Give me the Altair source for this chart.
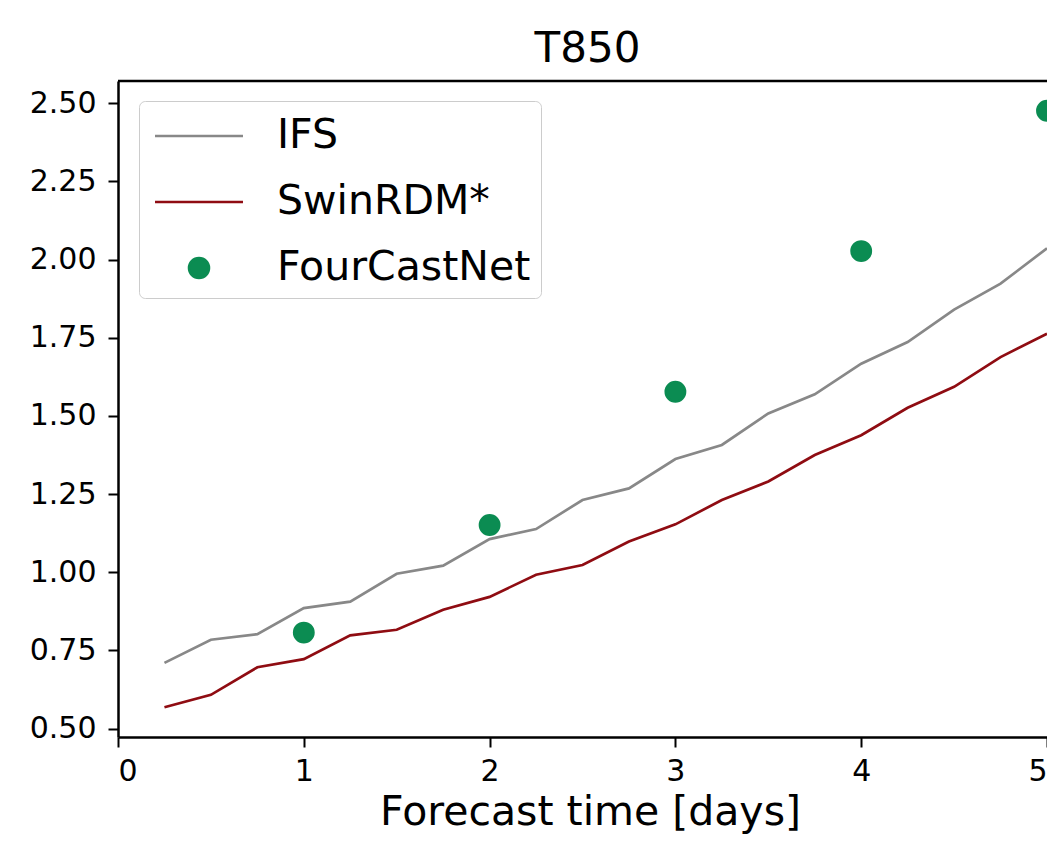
import altair as alt
import pandas as pd

# ---- data ----
days = [0.25, 0.5, 0.75, 1.0, 1.25, 1.5, 1.75, 2.0, 2.25, 2.5,
        2.75, 3.0, 3.25, 3.5, 3.75, 4.0, 4.25, 4.5, 4.75, 5.0]
ifs = [0.710, 0.784, 0.802, 0.885, 0.906, 0.995, 1.021, 1.106, 1.138, 1.231,
       1.268, 1.362, 1.407, 1.508, 1.569, 1.667, 1.736, 1.840, 1.923, 2.036]
swinrdm = [0.568, 0.608, 0.696, 0.722, 0.798, 0.816, 0.880, 0.921, 0.992, 1.023,
           1.098, 1.153, 1.231, 1.290, 1.375, 1.438, 1.526, 1.593, 1.688, 1.763]
fcn_days = [1, 2, 3, 4, 5]
fourcastnet = [0.807, 1.151, 1.577, 2.027, 2.476]

models = ["IFS", "SwinRDM*", "FourCastNet"]
colors = ["#888888", "#8f0c12", "#0b8c52"]
y_ticks = [0.5, 0.75, 1.0, 1.25, 1.5, 1.75, 2.0, 2.25, 2.5]
x_ticks = [0, 1, 2, 3, 4, 5]

lines_df = pd.DataFrame({
    "day": days + days,
    "rmse": ifs + swinrdm,
    "model": ["IFS"] * len(days) + ["SwinRDM*"] * len(days),
})
pts_df = pd.DataFrame({"day": fcn_days, "rmse": fourcastnet,
                       "model": ["FourCastNet"] * len(fcn_days)})

W, H = 929, 656
FONT = "DejaVu Sans"
SYM = 2237  # symbol size (unit shapes scaled by sqrt(size)/2)
LINE_SHAPE = "M-1.86,0H1.86"
DOT_SHAPE = "M0.42,0A0.42,0.42,0,1,1,-0.42,0A0.42,0.42,0,1,1,0.42,0Z"

legend = alt.Legend(
    title=None, orient="none", legendX=21, legendY=20,
    labelFontSize=41, labelFont=FONT, labelColor="black", labelLimit=500,
    symbolStrokeWidth=2.7, symbolOpacity=1, symbolSize=SYM, symbolOffset=25,
    rowPadding=21, labelOffset=53,
    padding=10, strokeColor="#cccccc", cornerRadius=6, fillColor="white",
)

stroke_scale = alt.Scale(domain=models, range=colors)
fill_scale = alt.Scale(domain=models, range=colors)
shape_scale = alt.Scale(domain=models, range=[LINE_SHAPE, LINE_SHAPE, DOT_SHAPE])

x_enc = alt.X("day:Q", scale=alt.Scale(domain=[0, 5], nice=False, zero=False),
              axis=alt.Axis(values=x_ticks, format="d", title="Forecast time [days]",
                            titleFontSize=41, titleFont=FONT, titleFontWeight="normal",
                            titleBaseline="alphabetic", titleY=87, titleX=472,
                            labelPadding=9))
y_enc = alt.Y("rmse:Q", scale=alt.Scale(domain=[0.473, 2.571], nice=False, zero=False),
              axis=alt.Axis(values=y_ticks, format=".2f", title=None, labelPadding=12))

line_layer = alt.Chart(lines_df).mark_line(strokeWidth=2.7).encode(
    x=x_enc, y=y_enc,
    stroke=alt.Stroke("model:N", scale=stroke_scale, legend=legend),
)

pt_layer = alt.Chart(pts_df).mark_point(
    filled=True, strokeWidth=2.0, opacity=1, size=SYM
).encode(
    x=x_enc, y=y_enc,
    stroke=alt.Stroke("model:N", scale=stroke_scale, legend=legend),
    fill=alt.Fill("model:N", scale=fill_scale, legend=legend),
    shape=alt.Shape("model:N", scale=shape_scale, legend=legend),
)

top_spine = alt.Chart(pd.DataFrame({"a": [0]})).mark_rule(
    color="black", strokeWidth=2.5
).encode(x=alt.value(0), x2=alt.value(W), y=alt.value(0))

chart = alt.layer(line_layer, pt_layer, top_spine).properties(
    width=W, height=H,
    title=alt.TitleParams("T850", fontSize=42, font=FONT, fontWeight="normal",
                          baseline="alphabetic", offset=18, dx=5, dy=42, color="black"),
    autosize=alt.AutoSizeParams(type="none"),
    padding={"left": 110, "top": 73, "right": 0, "bottom": 97},
).configure(font=FONT).configure_view(stroke=None).configure_axis(
    grid=False, labelFont=FONT, labelFontSize=30, labelColor="black",
    tickColor="black", tickWidth=2, tickSize=10,
    domainColor="black", domainWidth=2.5, titleColor="black",
)

chart.save("out.html", embed_options={"renderer": "svg", "actions": False})
